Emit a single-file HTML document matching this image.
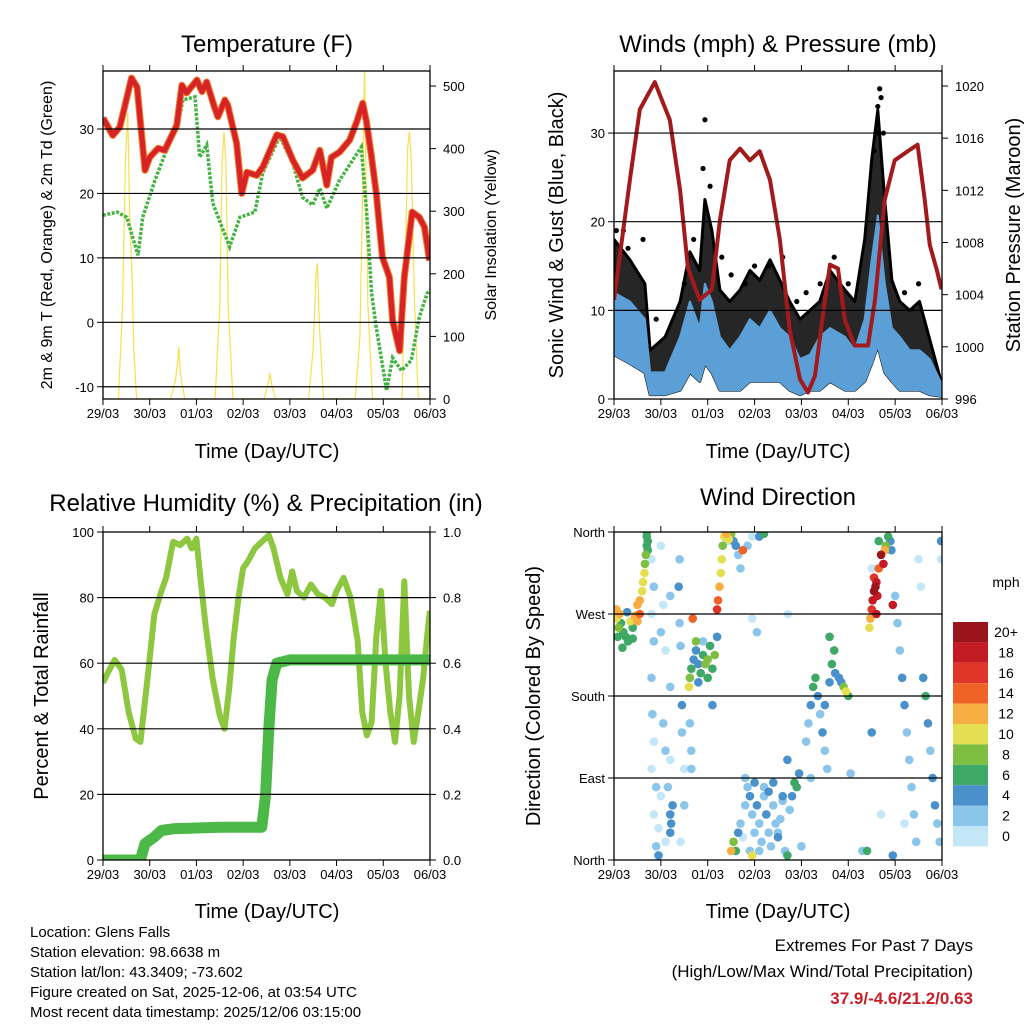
<!DOCTYPE html>
<html><head><meta charset="utf-8">
<style>
html,body{margin:0;padding:0;background:#fff;}
svg{display:block;font-family:"Liberation Sans",Arial,sans-serif;}
</style></head>
<body>
<svg id="s" width="1024" height="1024" xmlns="http://www.w3.org/2000/svg">
<defs>
<clipPath id="cT"><rect x="103" y="71" width="327" height="328"/></clipPath>
<clipPath id="cW"><rect x="614" y="71" width="328" height="328"/></clipPath>
<clipPath id="cR"><rect x="103" y="532" width="327" height="328"/></clipPath>
<clipPath id="cD"><rect x="614" y="532" width="328" height="328"/></clipPath>
</defs>
<rect x="0" y="0" width="1024" height="1024" fill="#fff"/>
<g font-size="24" text-anchor="middle" fill="#000">
<text x="267" y="52">Temperature (F)</text>
<text x="778" y="52">Winds (mph) &amp; Pressure (mb)</text>
<text x="266" y="511">Relative Humidity (%) &amp; Precipitation (in)</text>
<text x="778" y="505">Wind Direction</text>
</g>
<g font-size="20" text-anchor="middle">
<text x="267" y="458">Time (Day/UTC)</text>
<text x="778" y="458">Time (Day/UTC)</text>
<text x="267" y="918">Time (Day/UTC)</text>
<text x="778" y="918">Time (Day/UTC)</text>
<text transform="translate(563,235) rotate(-90)">Sonic Wind &amp; Gust (Blue, Black)</text>
<text transform="translate(1020,235) rotate(-90)">Station Pressure (Maroon)</text>
<text transform="translate(48,696) rotate(-90)">Percent &amp; Total Rainfall</text>
<text transform="translate(540,696) rotate(-90)">Direction (Colored By Speed)</text>
</g>
<g font-size="16" text-anchor="middle">
<text transform="translate(52,235) rotate(-90)">2m &amp; 9m T (Red, Orange) &amp; 2m Td (Green)</text>
<text transform="translate(496,235) rotate(-90)">Solar Insolation (Yellow)</text>
</g>
<g font-size="15" fill="#000">
<text x="30" y="937">Location: Glens Falls</text>
<text x="30" y="957">Station elevation: 98.6638 m</text>
<text x="30" y="977">Station lat/lon: 43.3409; -73.602</text>
<text x="30" y="997">Figure created on Sat, 2025-12-06, at 03:54 UTC</text>
<text x="30" y="1017">Most recent data timestamp: 2025/12/06 03:15:00</text>
</g>
<g font-size="17" text-anchor="end">
<text x="973" y="951">Extremes For Past 7 Days</text>
<text x="973" y="977">(High/Low/Max Wind/Total Precipitation)</text>
<text x="973" y="1004" font-weight="bold" fill="#c8202a">37.9/-4.6/21.2/0.63</text>
</g>
<text x="1006" y="587" font-size="14" text-anchor="middle">mph</text>
<g id="gT"></g>
<g id="gW"></g>
<g id="gR"></g>
<g id="gD"></g>
<g id="gA"></g>
</svg>
<script>
const dayLabels=["29/03","30/03","01/03","02/03","03/03","04/03","05/03","06/03"];
const tempTicks=[-10,0,10,20,30];
const solarTicks=[0,100,200,300,400,500];
const windTicks=[0,10,20,30];
const presTicks=[996,1000,1004,1008,1012,1016,1020];
const rhTicks=[0,20,40,60,80,100];
const rainTicks=[0,0.2,0.4,0.6,0.8,1.0];
const dirTicks=[0,90,180,270,360];
const dirLabels=["North","East","South","West","North"];

const tDays=[0,0.21,0.36,0.61,0.73,0.9,1.0,1.18,1.32,1.58,1.69,1.79,2.01,2.12,2.22,2.39,2.46,2.61,2.67,2.86,2.97,3.08,3.29,3.42,3.72,3.85,4.06,4.27,4.49,4.64,4.79,4.89,5.06,5.28,5.43,5.56,5.64,5.75,5.85,5.98,6.13,6.2,6.35,6.45,6.62,6.77,6.88,6.99];
const tRed=[31.7,29,30.3,37.9,36.5,23.6,25.6,27,26.7,30.6,36.8,35.6,37.6,35.8,37.3,33.3,31.9,34.5,33.7,27.8,20,23.3,22.8,24.1,29.1,28.8,25.2,22.4,23.6,26.7,21.3,25.6,26.4,28.3,31.1,34,31.1,25.6,20,10.1,7,0.3,-4.4,7,17.1,16.3,14.8,9.6];
const dewDays=[0,0.3,0.51,0.75,0.85,1.11,1.32,1.6,1.71,1.97,2.07,2.22,2.35,2.71,2.93,3.25,3.42,3.78,4.06,4.27,4.49,4.64,4.79,5.06,5.53,5.64,5.75,5.85,6.07,6.2,6.39,6.6,6.77,6.94,7.0];
const dewVals=[16.6,17.1,16.3,10.4,16.3,22,26,30.3,34.5,35,25.6,27.5,18.5,11.7,16.3,17.1,23.2,28.8,24.7,19.4,18.2,20.8,17.7,22,27.2,17.4,4.5,-0.8,-10.6,-5.5,-7.5,-5.9,0.8,4.5,5];
const solarDays=[0,0.33,0.42,0.48,0.53,0.57,0.62,0.66,0.72,1.45,1.55,1.6,1.62,1.66,1.75,2.4,2.5,2.55,2.59,2.63,2.68,2.78,3.45,3.55,3.57,3.62,3.7,4.4,4.5,4.56,4.59,4.63,4.72,5.4,5.5,5.55,5.6,5.63,5.67,5.77,6.4,6.48,6.52,6.56,6.6,6.67,6.75,7];
const solarVals=[0,0,150,380,457,300,200,80,0,0,30,60,83,40,0,0,150,380,427,380,150,0,0,30,42,20,0,0,80,200,217,120,0,0,100,300,533,350,150,0,0,250,400,427,380,150,0,0];

const presDays=[0,0.34,0.55,0.87,1.19,1.41,1.58,1.83,2.09,2.26,2.47,2.69,2.9,3.11,3.33,3.54,3.75,3.97,4.14,4.29,4.5,4.61,4.78,4.93,5.14,5.42,5.57,5.78,5.99,6.31,6.48,6.63,6.74,6.89,6.99];
const presVals=[1003.6,1012.8,1018.2,1020.3,1017.4,1012,1006,1003.6,1004.4,1009.7,1014.3,1015.2,1014.3,1015,1012.8,1008.2,1001.3,997.5,996.5,997.8,1003.6,1006.3,1006,1002,1000.1,1000.1,1003.6,1011.3,1014.3,1015.1,1015.5,1011.3,1007.8,1005.9,1004.4];
const windDays=[0,0.34,0.66,0.77,1.09,1.41,1.62,1.83,1.94,2.09,2.26,2.47,2.69,2.9,3.11,3.33,3.54,3.75,3.97,4.18,4.39,4.61,4.93,5.14,5.35,5.5,5.63,5.78,5.93,6.1,6.31,6.52,6.74,7.0];
const windHigh=[12,11,9,3,3,7,11,8,13,11,7,5.5,7,9,8,10,8,7,4.5,5,7,8,7,5.5,9,15.7,20.7,13,8,7,5.5,5.5,4.5,1.6];
const windLow=[5,4,3,0.5,0.5,1,3,2,4,3,1,1,1,2,2,2,2,1,0.5,1,1,2,1,1,2,4,6,3,2,1,1,1,0.5,0.3];
const gustVals=[18,15.7,13,5.5,7,11,16.6,14.5,22.5,19,12.3,11,12.3,14.5,13.4,15.7,13.4,11,9,10,11,14.5,12.3,11,18,27,32.6,22.4,13.4,11,10,11,6.7,1.6];
const gustPeakDays=[0.05,0.3,0.62,1.94,1.9,2.05,3.3,3.6,4.1,5.55,5.6,5.63,5.67,5.7,5.75,0.9,1.5,2.5,2.8,3.0,3.9,4.4,4.7,5.0,6.2,6.5,0.2,1.7,2.3];
const gustPeakVals=[19,17,18,31.5,26,24,15,16,12,28,30,33,35,34,30,9,13,14,13,15,11,13,16,13,12,13,19,18,16];

const rhDays=[0,0.1,0.25,0.4,0.55,0.7,0.8,0.95,1.1,1.25,1.35,1.5,1.65,1.8,1.9,2.0,2.1,2.2,2.35,2.5,2.6,2.7,2.8,2.9,3.0,3.1,3.25,3.4,3.55,3.65,3.8,3.95,4.05,4.15,4.3,4.45,4.6,4.75,4.9,5.0,5.15,5.3,5.45,5.55,5.65,5.75,5.85,5.95,6.05,6.15,6.25,6.35,6.45,6.55,6.65,6.75,6.85,6.95,7.0];
const rhVals=[54,57,61,58,45,37,36,55,75,82,86,97,96,98,95,98,84,71,55,44,40,52,68,80,89,91,95,97,99,95,86,81,88,82,80,84,81,80,78,82,86,80,67,45,38,42,68,82,60,45,36,50,85,50,36,45,55,70,76];
const rainDays=[0,0.8,0.9,1.1,1.25,1.5,2.5,3.4,3.48,3.55,3.62,3.72,4.0,7.0];
const rainVals=[0,0,0.05,0.07,0.09,0.095,0.1,0.1,0.2,0.4,0.55,0.6,0.61,0.61];

const dirDays=[0.05,0.1,0.15,0.2,0.25,0.3,0.35,0.12,0.05,0.4,0.45,0.5,0.55,0.5,0.18,0.28,0.08,0.4,
0.55,0.6,0.62,0.65,0.66,0.68,0.7,0.7,0.72,0.7,0.72,
0.8,0.85,0.8,0.85,0.8,0.82,0.85,0.8,0.9,0.85,0.95,0.9,1.0,1.05,1.0,1.1,1.05,1.1,1.0,1.1,1.2,1.2,1.2,1.2,1.22,1.2,1.25,1.15,1.4,1.38,1.4,1.42,1.45,1.45,1.5,1.5,1.42,0.95,
1.6,1.62,1.65,1.7,1.75,1.8,1.85,1.9,1.95,2.0,2.05,2.1,2.15,2.0,1.8,1.9,2.2,1.75,2.1,1.62,1.65,1.65,1.68,
2.2,2.22,2.25,2.28,2.3,2.32,2.35,2.4,2.45,2.5,2.55,2.6,2.65,2.7,2.75,2.42,
2.85,2.95,3.1,3.2,3.71,2.95,3.05,2.95,
2.5,2.55,2.6,2.65,2.7,2.8,2.85,2.9,2.95,3.0,3.05,3.1,3.15,3.2,3.25,3.3,3.35,3.4,3.45,3.5,3.55,3.6,3.65,3.7,3.75,3.8,3.85,3.9,3.95,4.0,2.75,2.9,3.0,3.2,3.4,3.6,2.8,3.1,3.3,3.5,3.7,
4.1,4.15,4.2,4.25,4.3,4.35,4.4,4.45,4.5,4.55,4.5,4.6,4.65,4.7,4.72,4.8,4.85,4.9,4.95,5.0,5.05,4.2,4.6,
5.45,5.47,5.5,5.52,5.55,5.58,5.6,5.55,5.62,5.65,5.7,5.75,5.78,5.8,5.85,5.9,5.92,5.95,5.6,5.65,5.5,
6.0,6.05,6.1,6.15,6.2,6.25,6.3,6.35,6.4,6.45,6.5,6.55,6.6,6.65,6.7,6.75,6.8,6.85,6.9,6.95,6.98,6.98,6.2,5.3,5.5,5.4,5.95,5.7,6.3];
const dirVals=[265,255,260,250,245,240,262,270,275,255,268,262,270,280,233,272,245,243,
285,295,305,315,325,335,345,355,350,360,340,
330,300,270,240,200,160,130,100,80,50,35,15,345,280,250,230,150,120,70,20,290,190,110,50,40,30,60,80,330,300,260,235,170,140,100,60,20,5,
190,200,210,220,230,215,205,225,215,220,235,210,225,200,195,240,245,240,170,150,120,100,
265,275,285,300,315,330,345,355,358,352,358,350,345,335,320,340,
350,345,355,355,358,270,265,250,
5,10,20,10,30,40,60,80,70,50,30,60,40,20,70,50,30,15,60,40,25,45,65,10,5,55,70,85,80,95,15,25,10,85,80,85,70,90,10,75,30,
110,130,150,170,190,200,180,160,140,120,100,170,195,215,230,205,200,195,190,185,180,95,90,
245,255,265,275,285,295,300,305,310,290,320,335,325,340,345,355,350,340,280,270,350,
320,290,260,230,200,170,140,110,80,50,20,330,300,200,180,150,120,90,60,40,20,330,350,40,10,140,10,5,50];
const dirSpeeds=[10,8,6,7,6,6,10,12,12,7,12,13,14,12,6,5,6,7,
12,10,11,10,9,8,6,6,7,6,6,
1,2,0,3,3,2,1,0,2,0,1,2,0,1,2,1,2,3,0,0,3,3,1,5,4,4,4,2,2,4,3,2,4,3,0,2,1,4,
10,8,6,5,4,4,6,7,8,8,7,7,8,6,4,3,4,8,4,3,2,2,
14,16,14,12,11,10,8,10,12,10,8,4,4,2,2,14,
1,2,0,5,6,0,0,2,
10,12,8,6,4,2,3,2,4,3,2,4,2,3,2,4,3,2,3,2,4,2,3,2,6,2,4,6,6,4,3,0,2,4,2,4,4,2,2,4,3,
4,3,2,4,6,6,4,3,4,3,2,4,5,6,6,4,4,5,8,10,6,2,3,
6,10,12,16,18,20,20,18,16,18,14,20,18,12,8,6,4,4,18,18,6,
1,2,2,3,4,4,3,2,2,3,2,0,1,4,6,4,3,4,4,3,2,1,4,0,2,4,6,4,0];
const speedBins=["20+","18","16","14","12","10","8","6","4","2","0"];
const binColors=["#9a141c","#c21b24","#e0362a","#f06327","#f8ad42","#e4df50","#7ebf42","#3fa866","#4a91cc","#8cc5ea","#c4e7f8"];

const NS="http://www.w3.org/2000/svg";
function mk(tag,attrs,parent){const e=document.createElementNS(NS,tag);for(const k in attrs)e.setAttribute(k,attrs[k]);parent.appendChild(e);return e;}
const P={
 T:{x0:103,x1:430,y0:71,y1:399,lo:-11.9,hi:39.0,lo2:0,hi2:524},
 W:{x0:614,x1:942,y0:71,y1:399,lo:0,hi:37.0,lo2:996,hi2:1021.15},
 R:{x0:103,x1:430,y0:532,y1:860,lo:0,hi:100,lo2:0,hi2:1},
 D:{x0:614,x1:942,y0:532,y1:860,lo:0,hi:360,lo2:0,hi2:1}
};
function sx(p,d){return p.x0+(p.x1-p.x0)*d/7;}
function sy(p,v){return p.y1-(p.y1-p.y0)*(v-p.lo)/(p.hi-p.lo);}
function sy2(p,v){return p.y1-(p.y1-p.y0)*(v-p.lo2)/(p.hi2-p.lo2);}
function pts(p,xs,ys,f){return xs.map((d,i)=>sx(p,d).toFixed(1)+","+f(p,ys[i]).toFixed(1)).join(" ");}

const gA=document.getElementById('gA');
function axes(p,key,leftVals,leftLabels,rightVals,rightLabels,rightFn){
  leftVals.forEach((v,i)=>{
    const y=sy(p,v);
    if(y>p.y0+1&&y<p.y1-1){
      const g=mk('line',{x1:p.x0,x2:p.x1,y1:y,y2:y,stroke:'#000','stroke-width':1.2},gA);
      
      
    }
    const t=mk('line',{x1:p.x0-6,x2:p.x0,y1:y,y2:y,stroke:'#000','stroke-width':1},gA);
    
    
    const l=mk('text',{x:p.x0-9,y:y+5,'font-size':13,'text-anchor':'end'},gA);
    l.textContent=leftLabels[i];
    
    
  });
  if(rightVals){
    rightVals.forEach((v,i)=>{
      const y=rightFn(p,v);
      const t=mk('line',{x1:p.x1,x2:p.x1+6,y1:y,y2:y,stroke:'#000','stroke-width':1},gA);
      
      
      const l=mk('text',{x:p.x1+13,y:y+5,'font-size':13,'text-anchor':'start'},gA);
      l.textContent=rightLabels[i];
      
      
    });
  }
  dayLabels.forEach((lab,i)=>{
    const x=sx(p,i);
    const t=mk('line',{x1:x,x2:x,y1:p.y1,y2:p.y1+6,stroke:'#000','stroke-width':1},gA);
    
    
    const t2=mk('line',{x1:x,x2:x,y1:p.y0-6,y2:p.y0,stroke:'#000','stroke-width':1},gA);
    
    
    const l=mk('text',{x:x,y:p.y1+19,'font-size':13,'text-anchor':'middle'},gA);
    l.textContent=lab;
    
    
  });
  const f=mk('rect',{x:p.x0,y:p.y0,width:p.x1-p.x0,height:p.y1-p.y0,fill:'none',stroke:'#000','stroke-width':1.3},gA);
  
  
}

// Temperature
const pT=P.T, gT=document.getElementById('gT');
gT.setAttribute('clip-path','url(#cT)');
let e;
e=mk('polyline',{points:pts(pT,solarDays,solarVals,sy2),fill:'none',stroke:'#f9df4f','stroke-width':1.2},gT);


e=mk('polyline',{points:pts(pT,dewDays,dewVals,sy),fill:'none',stroke:'#45b343','stroke-width':3.5,'stroke-dasharray':'3 1.5'},gT);


e=mk('polyline',{points:pts(pT,tDays,tRed,sy),fill:'none',stroke:'#f47c28','stroke-width':7,'stroke-linejoin':'round'},gT);


e=mk('polyline',{points:pts(pT,tDays,tRed,sy),fill:'none',stroke:'#d62328','stroke-width':5,'stroke-linejoin':'round'},gT);


axes(pT,'temperature',tempTicks,tempTicks.map(String),solarTicks,solarTicks.map(String),sy2);

// Winds
const pW=P.W, gW=document.getElementById('gW');
gW.setAttribute('clip-path','url(#cW)');
const gustPoly=pts(pW,windDays,gustVals,sy)+" "+windDays.map((d,i)=>sx(pW,d).toFixed(1)+","+sy(pW,windLow[i]).toFixed(1)).reverse().join(" ");
e=mk('polygon',{points:gustPoly,fill:'#000','fill-opacity':0.85,stroke:'#000','stroke-width':3,'stroke-linejoin':'round'},gW);


gustPeakDays.forEach((d,i)=>{
  const c=mk('circle',{cx:sx(pW,d),cy:sy(pW,gustPeakVals[i]),r:2.6,fill:'#000'},gW);
  
  
});
const windPoly=pts(pW,windDays,windHigh,sy)+" "+windDays.map((d,i)=>sx(pW,d).toFixed(1)+","+sy(pW,windLow[i]).toFixed(1)).reverse().join(" ");
e=mk('polygon',{points:windPoly,fill:'#5b9fd6',stroke:'#5b9fd6','stroke-width':2,'stroke-linejoin':'round'},gW);


e=mk('polyline',{points:pts(pW,presDays,presVals,sy2),fill:'none',stroke:'#a31a1d','stroke-width':4,'stroke-linejoin':'round'},gW);


axes(pW,'winds',windTicks,windTicks.map(String),presTicks,presTicks.map(String),sy2);

// Humidity
const pR=P.R, gR=document.getElementById('gR');
gR.setAttribute('clip-path','url(#cR)');
e=mk('polyline',{points:pts(pR,rhDays,rhVals,sy),fill:'none',stroke:'#8dc63f','stroke-width':6,'stroke-linejoin':'round'},gR);


e=mk('polyline',{points:pts(pR,rainDays,rainVals,sy2),fill:'none',stroke:'#4cb848','stroke-width':11,'stroke-linejoin':'round','stroke-linecap':'round'},gR);


axes(pR,'humidity',rhTicks,rhTicks.map(String),rainTicks,rainTicks.map(v=>v.toFixed(1)),sy2);

// Direction
const pD=P.D, gD=document.getElementById('gD');
gD.setAttribute('clip-path','url(#cD)');
function binOf(s){return Math.max(0,Math.min(10,10-Math.floor(s/2)));}
const order=dirDays.map((d,i)=>i).sort((a,b)=>dirSpeeds[a]-dirSpeeds[b]);
order.forEach(i=>{
  const c=mk('circle',{cx:sx(pD,dirDays[i]),cy:sy(pD,dirVals[i]),r:4.3,fill:binColors[binOf(dirSpeeds[i])]},gD);
  
  
});
axes(pD,'direction',dirTicks,dirLabels,null,null,null);

// Colorbar
speedBins.forEach((lab,i)=>{
  const y=622+i*20.4;
  const r=mk('rect',{x:953,y:y,width:35,height:20.4,fill:binColors[i]},gA);
  
  
  const t=mk('text',{x:1006,y:y+15,'font-size':14,'text-anchor':'middle'},gA);
  t.textContent=lab;
  
  
});
</script>
</body></html>
